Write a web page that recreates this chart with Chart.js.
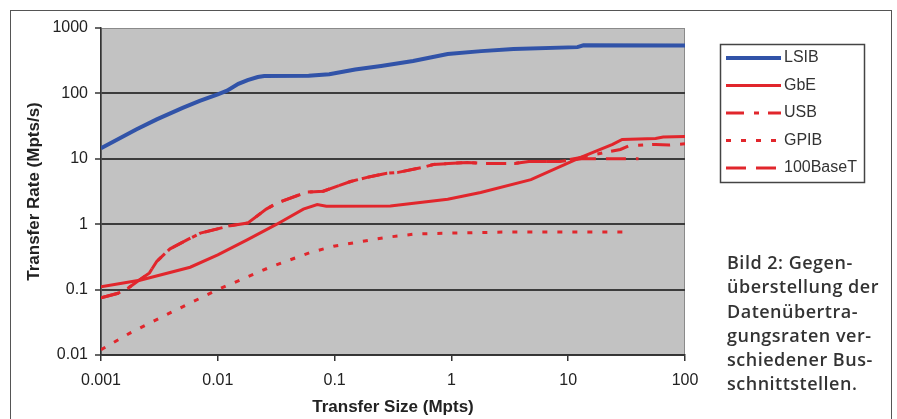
<!DOCTYPE html>
<html>
<head>
<meta charset="utf-8">
<script src="https://cdn.jsdelivr.net/npm/chart.js@4.4.1/dist/chart.umd.min.js"></script>
<style>
  html, body { margin: 0; padding: 0; background: #fff; }
  #wrap { position: relative; width: 897px; height: 419px; overflow: hidden; }
  #frame { position: absolute; left: 10px; top: 10px; width: 880px; height: 420px;
           border: 1px solid #555; border-bottom: none; }
  #chart { position: absolute; left: 0; top: 0; }
  #caption { position: absolute; left: 727px; top: 250px; margin: 0; letter-spacing: 0.5px;
             font: 600 18px/24.3px "Open Sans", sans-serif; color: #333; }
</style>
</head>
<body>
<div id="wrap">
  <div id="frame"></div>
  <canvas id="chart" width="897" height="419"></canvas>
  <p id="caption">Bild 2: Gegen-<br>überstellung der<br>Datenübertra-<br>gungsraten ver-<br>schiedener Bus-<br>schnittstellen.</p>
</div>
<script>
// Transfer rate vs transfer size, log/log.

const sizeTicks = [0.001, 0.01, 0.1, 1, 10, 100];
const rateTicks = [0.01, 0.1, 1, 10, 100, 1000];

const lsibSize = [0.001, 0.002, 0.003, 0.005, 0.007, 0.01, 0.012, 0.015, 0.018, 0.022, 0.025, 0.06, 0.09, 0.15, 0.25, 0.47, 0.93, 1.8, 3.4, 12, 13.5, 100];
const lsibRate = [14.5, 28, 40, 60, 77, 97, 110, 140, 160, 178, 184, 186, 197, 232, 262, 312, 400, 443, 476, 510, 545, 540];

const gbeSize = [0.001, 0.0022, 0.0058, 0.01, 0.018, 0.032, 0.054, 0.071, 0.085, 0.3, 0.93, 1.78, 4.8, 12.8, 24, 29, 56, 65, 100];
const gbeRate = [0.11, 0.14, 0.22, 0.34, 0.58, 1.0, 1.7, 2.0, 1.88, 1.9, 2.4, 3.05, 4.8, 10.5, 16.6, 19.8, 20.5, 21.5, 22];

const usbSize = [0.001, 0.0014, 0.0017, 0.0026, 0.003, 0.0039, 0.0055, 0.0071, 0.0128, 0.018, 0.026, 0.032, 0.058, 0.08, 0.137, 0.19, 0.28, 0.35, 0.57, 0.7, 1.37, 1.9, 3.5, 4.6, 8.4, 12.8, 28, 33, 56, 73, 100];
const usbRate = [0.075, 0.088, 0.105, 0.18, 0.27, 0.42, 0.58, 0.73, 0.95, 1.04, 1.7, 2.1, 3.1, 3.2, 4.5, 5.2, 6.0, 6.2, 7.4, 8.2, 8.8, 8.5, 8.5, 9.1, 9.1, 10.5, 13.9, 15.8, 16.6, 16.2, 17];

const gpibSize = [0.001, 0.0018, 0.0039, 0.01, 0.028, 0.062, 0.098, 0.21, 0.3, 0.5, 1, 3, 10, 34];
const gpibRate = [0.012, 0.022, 0.044, 0.1, 0.22, 0.37, 0.46, 0.58, 0.64, 0.71, 0.73, 0.76, 0.76, 0.76];

const baseSize = [0.001, 0.0014, 0.0017, 0.0026, 0.003, 0.0039, 0.0055, 0.0071, 0.0128, 0.018, 0.026, 0.032, 0.058, 0.08, 0.137, 0.19, 0.28, 0.35, 0.57, 0.7, 1.37, 1.9, 3.5, 4.6, 8.4, 13, 40];
const baseRate = [0.075, 0.088, 0.105, 0.18, 0.27, 0.42, 0.58, 0.73, 0.95, 1.04, 1.7, 2.1, 3.1, 3.2, 4.5, 5.2, 6.0, 6.2, 7.4, 8.2, 8.8, 8.5, 8.5, 9.1, 9.1, 10, 10];

const BLUE = '#3153a8';
const RED = '#e1262c';
const FONT = '"Liberation Sans", Arial, sans-serif';

const pairs = (xs, ys) => xs.map((x, i) => ({ x, y: ys[i] }));

function series(label, xs, ys, color, width, dash) {
    return {
        label,
        data: pairs(xs, ys),
        borderColor: color,
        borderWidth: width,
        borderDash: dash,
        pointRadius: 0,
        showLine: true,
        tension: 0,
        fill: false,
    };
}

// grey plot area like the Excel original
const plotBackground = {
    id: 'plotBackground',
    beforeDraw(chart) {
        const { ctx, chartArea: a } = chart;
        ctx.save();
        ctx.fillStyle = '#c2c2c2';
        ctx.fillRect(a.left, a.top, a.right - a.left, a.bottom - a.top);
        ctx.strokeStyle = '#8a8a8a';
        ctx.lineWidth = 1;
        ctx.strokeRect(a.left + 0.5, a.top + 0.5, a.right - a.left - 1, a.bottom - a.top - 1);
        ctx.restore();
    },
};

// boxed legend on the right, line samples keep each dataset's dash
const boxLegend = {
    id: 'boxLegend',
    afterDraw(chart) {
        const ctx = chart.ctx;
        ctx.save();
        ctx.fillStyle = '#fff';
        ctx.fillRect(720, 44, 144, 138);
        ctx.strokeStyle = '#444';
        ctx.lineWidth = 1.5;
        ctx.strokeRect(720.5, 44.5, 144, 138);
        chart.data.datasets.forEach((ds, i) => {
            const y = 58 + i * 27.5;
            ctx.beginPath();
            ctx.setLineDash(ds.borderDash || []);
            ctx.strokeStyle = ds.borderColor;
            ctx.lineWidth = ds.borderWidth;
            ctx.moveTo(726, y);
            ctx.lineTo(781, y);
            ctx.stroke();
            ctx.setLineDash([]);
            ctx.fillStyle = '#333';
            ctx.font = '16px ' + FONT;
            ctx.textBaseline = 'middle';
            ctx.fillText(ds.label, 784, y);
        });
        ctx.restore();
    },
};

const keepTicks = (list) => (scale) => { scale.ticks = list.map((v) => ({ value: v })); };

new Chart(document.getElementById('chart'), {
    type: 'scatter',
    data: {
        datasets: [
            series('LSIB', lsibSize, lsibRate, BLUE, 4, []),
            series('GbE', gbeSize, gbeRate, RED, 3, []),
            series('USB', usbSize, usbRate, RED, 3, [18, 10, 5, 9]),
            series('GPIB', gpibSize, gpibRate, RED, 3, [5, 10]),
            series('100BaseT', baseSize, baseRate, RED, 3, [20, 10]),
        ],
    },
    options: {
        responsive: false,
        animation: false,
        layout: { padding: { top: 28, right: 212, left: 0, bottom: 0 } },
        plugins: { legend: { display: false }, tooltip: { enabled: false } },
        scales: {
            x: {
                type: 'logarithmic',
                min: 0.001,
                max: 100,
                afterBuildTicks: keepTicks(sizeTicks),
                afterFit(scale) {
                    scale.height = 64;
                    scale.paddingLeft = 0; scale.paddingRight = 0;
                },
                border: { color: '#333', width: 1.5 },
                grid: { drawOnChartArea: false, tickLength: 6, color: '#333', lineWidth: 1.5 },
                ticks: {
                    color: '#222', padding: 10, maxRotation: 0, autoSkip: false,
                    font: { family: FONT, size: 16 },
                    callback: (v) => String(v),
                },
                title: {
                    display: true, text: 'Transfer Size (Mpts)', color: '#222',
                    font: { family: FONT, size: 17, weight: 'bold' },
                    padding: { top: 0, bottom: 1 },
                },
            },
            y: {
                type: 'logarithmic',
                min: 0.01,
                max: 1000,
                afterBuildTicks: keepTicks(rateTicks),
                afterFit(scale) {
                    scale.width = 101;
                    scale.paddingTop = 0; scale.paddingBottom = 0;
                },
                border: { color: '#333', width: 1.5 },
                grid: {
                    tickLength: 6,
                    color: (c) => (c.tick && c.tick.value === 1000 ? 'rgba(0,0,0,0)' : '#3c3c3c'),
                    lineWidth: 2,
                    tickColor: '#333',
                    tickWidth: 1.5,
                },
                ticks: {
                    color: '#222', padding: 7, autoSkip: false,
                    font: { family: FONT, size: 16 },
                    callback: (v) => String(v),
                },
                title: {
                    display: true, text: 'Transfer Rate (Mpts/s)', color: '#222',
                    font: { family: FONT, size: 17, weight: 'bold' },
                    padding: { top: 24, bottom: 0 },
                },
            },
        },
    },
    plugins: [plotBackground, boxLegend],
});
</script>
</body>
</html>
